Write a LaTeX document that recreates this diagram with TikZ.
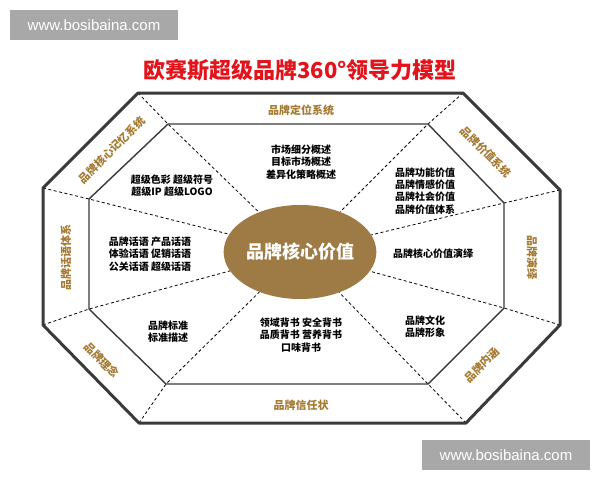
\documentclass[tikz,border=0pt]{standalone}
\usepackage{fontspec}
\setmainfont{Noto Sans CJK SC}
\newfontfamily\webfont{Liberation Sans}
\usetikzlibrary{shapes.geometric}

\definecolor{gold}{HTML}{A57A33}
\definecolor{coregold}{HTML}{9E7B45}
\definecolor{titlered}{HTML}{E3131B}
\definecolor{frame}{HTML}{3A3A3A}
\definecolor{wmgray}{HTML}{A8A8A8}

\begin{document}
\begin{tikzpicture}[x=1pt, y=-1pt,
  outer/.style={frame, line width=3pt, line join=round},
  inner/.style={frame, line width=1.4pt, line join=round},
  split/.style={black, line width=0.8pt, dash pattern=on 3pt off 2.5pt},
  part/.style={text=gold, font=\fontsize{11}{12}\selectfont\bfseries},
  item/.style={align=center, font=\fontsize{10}{12.2}\selectfont\bfseries},
  wmbox/.style={fill=wmgray, text=white, minimum width=168, minimum height=30, inner sep=0pt, font=\webfont\fontsize{15}{15}\selectfont}]

\useasboundingbox[fill=white] (0,0) rectangle (600,480);

\node[wmbox] (wm1) at (94,25) {www.bosibaina.com};
\node[wmbox] (wm2) at (506,455) {www.bosibaina.com};

\node[text=titlered, font=\fontsize{22}{24}\selectfont\bfseries] (title) at (300,70) {欧赛斯超级品牌360°领导力模型};

\coordinate (o1) at (138,93);
\coordinate (o2) at (463,93);
\coordinate (o3) at (560,190);
\coordinate (o4) at (560,325);
\coordinate (o5) at (466,423);
\coordinate (o6) at (139,423);
\coordinate (o7) at (43,325);
\coordinate (o8) at (43,188);

\coordinate (i1) at (168,124);
\coordinate (i2) at (428,124);
\coordinate (i3) at (504,203);
\coordinate (i4) at (504,308);
\coordinate (i5) at (428,384);
\coordinate (i6) at (166,384);
\coordinate (i7) at (89,309);
\coordinate (i8) at (89,199);

\node[ellipse, fill=coregold, minimum width=134, minimum height=94, inner sep=0pt, text=white, font=\fontsize{18}{20}\selectfont\bfseries] (core) at (300,252) {品牌核心价值};

\foreach \k in {1,...,8} {
  \draw[split] (o\k) -- (i\k) -- (core);
}

\draw[outer] (o1) -- (o2) -- (o3) -- (o4) -- (o5) -- (o6) -- (o7) -- (o8) -- cycle;
\draw[inner] (i1) -- (i2) -- (i3) -- (i4) -- (i5) -- (i6) -- (i7) -- (i8) -- cycle;

\node[part] (top) at (301,110) {品牌定位系统};
\node[part] (bottom) at (301,405) {品牌信任状};
\node[part, rotate=90] (left) at (66,257) {品牌话语体系};
\node[part, rotate=-90] (right) at (532,257) {品牌演绎};
\node[part, rotate=45] (topleft) at (112,150) {品牌核心记忆系统};
\node[part, rotate=-45] (topright) at (486,152) {品牌价值系统};
\node[part, rotate=-45] (botleft) at (102,360) {品牌理念};
\node[part, rotate=45] (botright) at (482,365) {品牌内涵};

\node[item] (market) at (301,162) {市场细分概述\\目标市场概述\\差异化策略概述};
\node[item] (super) at (172,186) {超级色彩 超级符号\\超级IP 超级LOGO};
\node[item] (speech) at (150,254) {品牌话语 产品话语\\体验话语 促销话语\\公关话语 超级话语};
\node[item] (standard) at (168,332) {品牌标准\\标准描述};
\node[item] (trust) at (301,335) {领域背书 安全背书\\品质背书 营养背书\\口味背书};
\node[item] (culture) at (425,327) {品牌文化\\品牌形象};
\node[item] (deduce) at (433,254) {品牌核心价值演绎};
\node[item] (value) at (425,191) {品牌功能价值\\品牌情感价值\\品牌社会价值\\品牌价值体系};

\end{tikzpicture}
\end{document}
